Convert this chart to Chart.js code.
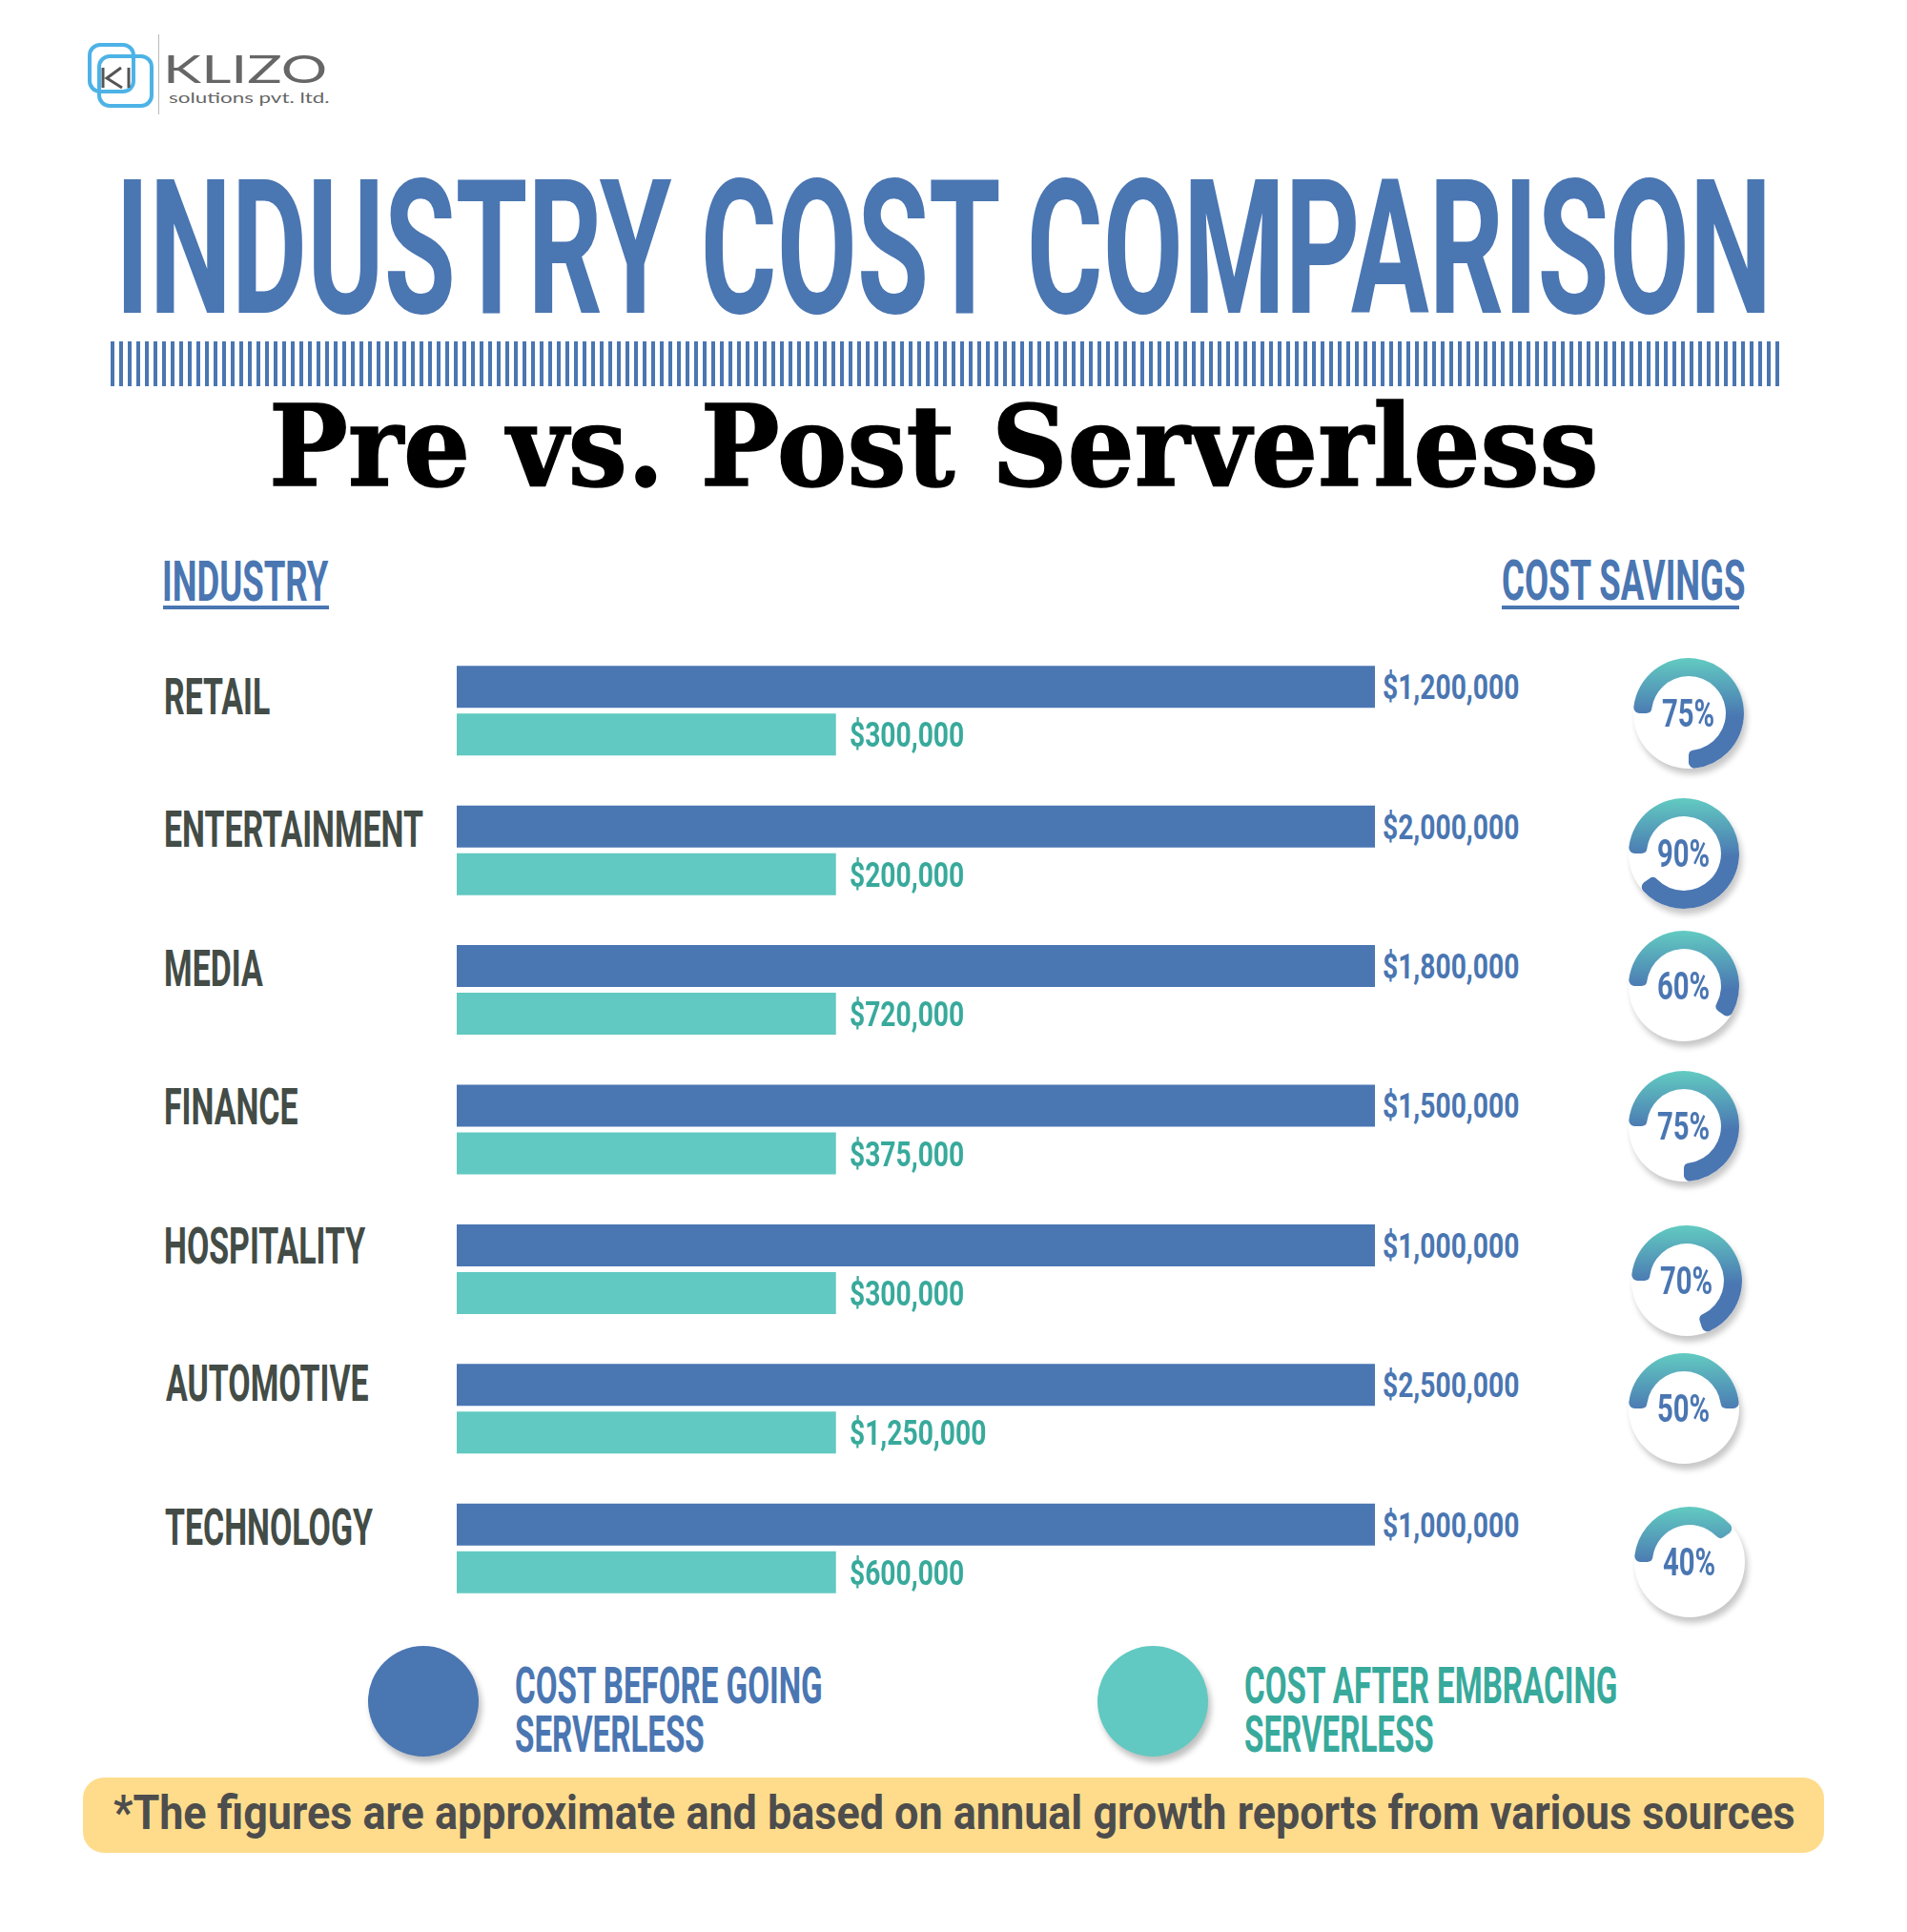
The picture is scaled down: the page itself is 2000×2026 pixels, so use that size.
<!DOCTYPE html>
<html>
<head>
<meta charset="utf-8">
<title>Industry Cost Comparison</title>
<script src="https://cdn.jsdelivr.net/npm/chart.js@4.4.1/dist/chart.umd.min.js"></script>
<style>
html,body{margin:0;padding:0;background:#fff;}
#page{position:relative;width:2000px;height:2026px;overflow:hidden;background:#fff;}
.t{position:absolute;white-space:nowrap;line-height:1;margin:0;padding:0;}
.abs{position:absolute;}
</style>
</head>
<body>
<div id="page">
  <svg class="abs" style="left:86px;top:40px" width="80" height="80" viewBox="86 40 80 80">
    <rect x="94" y="47" width="46" height="49" rx="11" fill="none" stroke="#4db3e6" stroke-width="4"/>
    <rect x="104" y="59" width="55" height="52" rx="11" fill="none" stroke="#4db3e6" stroke-width="4"/>
    <path d="M108 71 V92 M127 71 L112 82 L128 92" fill="none" stroke="#555" stroke-width="3"/>
    <path d="M135 71 V92" fill="none" stroke="#555" stroke-width="3"/>
  </svg>
  <div class="abs" style="left:166px;top:36px;width:1px;height:84px;background:#bbb"></div>
  <div class="abs" style="left:116px;top:358px;width:1750px;height:47px;background:repeating-linear-gradient(90deg,#4a76b2 0 4px,transparent 4px 9px)"></div>
  <div class="abs" style="left:171px;top:635px;width:174px;height:4px;background:#4a76b2"></div>
  <div class="abs" style="left:1575px;top:635px;width:249px;height:4px;background:#4a76b2"></div>
  <div class="abs" style="left:87px;top:1864px;width:1826px;height:79px;background:#fedc8b;border-radius:22px"></div>
  <canvas id="bars" width="963" height="1025" style="position:absolute;left:479px;top:672px"></canvas>
</div>
<script>
// ---------------- data ----------------
const industries = ["RETAIL","ENTERTAINMENT","MEDIA","FINANCE","HOSPITALITY","AUTOMOTIVE","TECHNOLOGY"];
const costBefore = [1200000, 2000000, 1800000, 1500000, 1000000, 2500000, 1000000];
const costAfter  = [300000, 200000, 720000, 375000, 300000, 1250000, 600000];
const savingsPct = [75, 90, 60, 75, 70, 50, 40];
// bar lengths as drawn in the graphic (it does not scale bars to the amounts), in % of the bar track
const barBeforeDrawn = [100, 100, 100, 100, 100, 100, 100];
const barAfterDrawn  = [41.3, 41.3, 41.3, 41.3, 41.3, 41.3, 41.3];
const seriesLabels = [["COST BEFORE GOING","SERVERLESS"],["COST AFTER EMBRACING","SERVERLESS"]];
const titleText = "INDUSTRY COST COMPARISON";
const subtitleText = "Pre vs. Post Serverless";
const colHeaders = ["INDUSTRY","COST SAVINGS"];
const footnote = "*The figures are approximate and based on annual growth reports from various sources";

// ---------------- layout / style ----------------
const BLUE='#4a76b2', TEAL='#61c9c1', TEAL_TXT='#38aa9c', DARK='#434c46';
const donutX = [1771, 1766, 1766, 1766, 1769, 1766, 1772];
const donutNudgeY = [3, 3, -4, -4, 12, 0, 14];
const labelNudgeY = [8, 0, 0, -2, -2, -4, 0];
const page = document.getElementById('page');
const meas = document.createElement('canvas').getContext('2d');
const fmt = v => '$' + v.toLocaleString('en-US');

function fontStr(st,size){ return `${st.weight} ${size}px ${st.family}`; }
function ink(st,size,txt){ meas.font=fontStr(st,size); const m=meas.measureText(txt);
  return {l:m.actualBoundingBoxLeft, r:m.actualBoundingBoxRight}; }
function prep(st){
  meas.font=fontStr(st,100);
  const cr = meas.measureText('H').actualBoundingBoxAscent/100;
  st.size = st.cap/cr;
  const k = ink(st,st.size,st.ref[0]);
  st.sx = st.ref[1]/(k.l+k.r);
  return st;
}
function put(txt, st, x, baseY, align){
  const el=document.createElement('div'); el.className='t';
  el.style.font=fontStr(st,st.size); el.style.color=st.color;
  if(st.stroke) el.style.webkitTextStroke = st.stroke + ' ' + st.color;
  el.appendChild(document.createTextNode(txt));
  const mk=document.createElement('i'); mk.style.cssText='display:inline-block;width:0;height:0;vertical-align:baseline';
  el.appendChild(mk); page.appendChild(el);
  const k=ink(st,st.size,txt);
  let left;
  if(align==='center') left = x - st.sx*(k.r-k.l)/2;
  else left = x + k.l*st.sx;
  el.style.left=left+'px';
  el.style.transformOrigin='0 0';
  el.style.transform=`scaleX(${st.sx})`;
  el.style.top=(baseY - mk.offsetTop)+'px';
  return el;
}

const S = {
  title:  prep({family:'Roboto',weight:700,cap:141,color:BLUE,ref:[titleText,1724]}),
  sub:    prep({family:'"DejaVu Serif"',weight:700,cap:86,color:'#000',stroke:'1.5px',ref:[subtitleText,1386]}),
  head:   prep({family:'Roboto',weight:700,cap:43,color:BLUE,ref:['INDUSTRY',172]}),
  row:    prep({family:'Roboto',weight:700,cap:38.5,color:DARK,ref:['ENTERTAINMENT',270]}),
  valB:   prep({family:'Roboto',weight:700,cap:26,color:BLUE,ref:['$1,200,000',142]}),
  valA:   prep({family:'Roboto',weight:700,cap:26,color:TEAL_TXT,ref:['$1,200,000',142]}),
  pct:    prep({family:'Roboto',weight:700,cap:29,color:BLUE,ref:['75%',54]}),
  legB:   prep({family:'Roboto',weight:700,cap:38,color:BLUE,ref:['COST BEFORE GOING',321]}),
  legA:   prep({family:'Roboto',weight:700,cap:38,color:TEAL_TXT,ref:['COST BEFORE GOING',321]}),
  foot:   prep({family:'Roboto',weight:700,cap:36,color:'#4d4d4d',ref:[footnote,1762]}),
  logo:   prep({family:'Lato',weight:400,cap:30,color:'#666',ref:['KLIZO',165]}),
  logo2:  prep({family:'Lato',weight:400,cap:10.5,color:'#666',ref:['solutions pvt. ltd.',168]})
};

// header texts
put('KLIZO', S.logo, 175, 87);
put('solutions pvt. ltd.', S.logo2, 177, 108);
put(titleText, S.title, 130, 328);
put(subtitleText, S.sub, 287, 509);
put(colHeaders[0], S.head, 172, 630);
put(colHeaders[1], S.head, 1576, 629);

// ---------------- bar chart ----------------
const barChart = new Chart(document.getElementById('bars'), {
  type: 'bar',
  data: {
    labels: industries,
    datasets: [
      {label: seriesLabels[0].join(' '), data: barBeforeDrawn, backgroundColor: BLUE},
      {label: seriesLabels[1].join(' '), data: barAfterDrawn, backgroundColor: TEAL}
    ]
  },
  options: {
    indexAxis: 'y',
    responsive: false,
    animation: false,
    events: [],
    layout: {padding: 0},
    datasets: {bar: {categoryPercentage: 100/146.4, barPercentage: 0.88, borderWidth: 0}},
    scales: {
      x: {display: false, min: 0, max: 100},
      y: {display: false}
    },
    plugins: {legend: {display: false}, tooltip: {enabled: false}}
  }
});

const cv = document.getElementById('bars');
const offX = cv.offsetLeft, offY = cv.offsetTop;
const metaB = barChart.getDatasetMeta(0).data, metaA = barChart.getDatasetMeta(1).data;
const ys = barChart.scales.y;

industries.forEach((name, i) => {
  const band = offY + ys.getPixelForValue(i);
  put(name, S.row, 174, band - 4 + labelNudgeY[i]);
  const b = metaB[i], a = metaA[i];
  put(fmt(costBefore[i]), S.valB, offX + b.x + 9, offY + b.y + 13);
  put(fmt(costAfter[i]), S.valA, offX + a.x + 15, offY + a.y + 13);

  // savings donut
  const cx = donutX[i];
  const cy = band + donutNudgeY[i];
  const disc = document.createElement('div');
  disc.className = 'abs';
  disc.style.cssText = `left:${cx-58}px;top:${cy-58}px;width:116px;height:116px;border-radius:50%;background:#fff;box-shadow:3px 6px 6px rgba(0,0,0,0.22)`;
  page.appendChild(disc);
  const dc = document.createElement('canvas');
  dc.width = 140; dc.height = 140;
  dc.style.cssText = `position:absolute;left:${cx-70}px;top:${cy-70}px`;
  page.appendChild(dc);
  new Chart(dc, {
    type: 'doughnut',
    data: {datasets: [{
      data: [savingsPct[i], 100 - savingsPct[i]],
      backgroundColor: (c) => {
        if (c.dataIndex === 1) return 'rgba(0,0,0,0)';
        const ch = c.chart, ca = ch.chartArea;
        if (!ca) return BLUE;
        const my = (ca.top + ca.bottom) / 2;
        const g = ch.ctx.createLinearGradient(0, my - 58, 0, my + 4);
        g.addColorStop(0, '#62cbc1');
        g.addColorStop(1, BLUE);
        return g;
      },
      borderWidth: 0,
      borderRadius: (c) => c.dataIndex === 0 ? 6 : 0,
      radius: 58,
      cutout: 47
    }]},
    options: {
      responsive: false, animation: false, events: [],
      rotation: -90, circumference: 360,
      layout: {padding: 0},
      plugins: {legend: {display: false}, tooltip: {enabled: false}}
    }
  });
  put(savingsPct[i] + '%', S.pct, cx, cy + 14, 'center');
});

// ---------------- legend ----------------
const legendPos = [{cx: 444, tx: 541, st: S.legB}, {cx: 1209, tx: 1306, st: S.legA}];
barChart.data.datasets.forEach((ds, k) => {
  const p = legendPos[k];
  const dot = document.createElement('div');
  dot.className = 'abs';
  dot.style.cssText = `left:${p.cx-58}px;top:${1784-58}px;width:116px;height:116px;border-radius:50%;background:${ds.backgroundColor};box-shadow:3px 6px 6px rgba(0,0,0,0.25)`;
  page.appendChild(dot);
  seriesLabels[k].forEach((line, j) => put(line, p.st, p.tx, 1786 + j*51));
});

// ---------------- footnote ----------------
put(footnote, S.foot, 119, 1918);
</script>
</body>
</html>
